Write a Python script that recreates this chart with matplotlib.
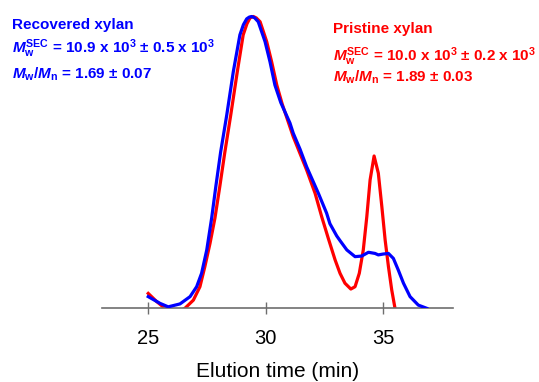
import matplotlib
matplotlib.use('Agg')
import matplotlib.pyplot as plt

# SEC elution profiles (normalised RI signal)
recovered_time = [25.0, 25.50, 25.85, 26.35, 26.78, 27.06, 27.27, 27.49, 27.70, 27.88,
                  28.08, 28.34, 28.62, 28.90, 29.05, 29.19, 29.30, 29.40, 29.52, 29.68,
                  29.97, 30.18, 30.39, 30.64, 31.03, 31.17, 31.46, 31.74, 32.24, 32.59,
                  32.73, 33.02, 33.16, 33.45, 33.80, 34.08, 34.37, 34.65, 34.79, 35.00,
                  35.22, 35.43, 35.64, 35.86, 36.14, 36.49, 36.85]
recovered_signal = [0.040, 0.017, 0.005, 0.015, 0.040, 0.074, 0.120, 0.200, 0.310, 0.420,
                    0.535, 0.662, 0.811, 0.937, 0.972, 0.992, 0.998, 1.000, 0.996, 0.982,
                    0.914, 0.845, 0.765, 0.705, 0.635, 0.600, 0.545, 0.485, 0.394, 0.326,
                    0.290, 0.248, 0.232, 0.200, 0.177, 0.179, 0.192, 0.188, 0.183, 0.186,
                    0.188, 0.171, 0.131, 0.086, 0.040, 0.011, 0.000]

pristine_time = [25.0, 25.36, 25.71, 26.10, 26.56, 26.92, 27.20, 27.41, 27.63, 27.84,
                 28.05, 28.25, 28.51, 28.79, 29.04, 29.20, 29.33, 29.47, 29.60, 29.76,
                 30.04, 30.25, 30.47, 30.70, 31.17, 31.74, 32.10, 32.38, 32.66, 32.95,
                 33.16, 33.37, 33.62, 33.80, 33.98, 34.15, 34.30, 34.44, 34.61, 34.79,
                 34.94, 35.08, 35.22, 35.36, 35.50, 35.60]
pristine_signal = [0.051, 0.023, 0.000, -0.020, 0.000, 0.028, 0.074, 0.143, 0.223, 0.310,
                   0.420, 0.530, 0.662, 0.811, 0.937, 0.975, 0.995, 1.000, 0.995, 0.982,
                   0.914, 0.845, 0.765, 0.700, 0.588, 0.474, 0.394, 0.314, 0.240, 0.166,
                   0.120, 0.086, 0.066, 0.074, 0.120, 0.200, 0.314, 0.440, 0.522, 0.463,
                   0.348, 0.234, 0.143, 0.063, 0.000, -0.030]

xticks = [25, 30, 35]

plt.rcParams['font.family'] = ['Liberation Sans', 'DejaVu Sans']
plt.rcParams['mathtext.fontset'] = 'custom'
plt.rcParams['mathtext.it'] = 'Liberation Sans:italic:bold'
plt.rcParams['mathtext.rm'] = 'Liberation Sans:bold'
plt.rcParams['mathtext.bf'] = 'Liberation Sans:bold'

W, H = 539, 382
fig = plt.figure(figsize=(W / 100, H / 100), dpi=100)
ax = fig.add_axes([101.7 / W, (H - 308.3) / H, 351.6 / W, 1.05 * 291.8 / H])

ax.plot(pristine_time, pristine_signal, color='#ff0000', lw=2.3, zorder=2)
ax.plot(recovered_time, recovered_signal, color='#0000ff', lw=2.3, zorder=3)

ax.set_xlim(23.02, 37.98)
ax.set_ylim(0, 1.05)

for s in ['top', 'right', 'left']:
    ax.spines[s].set_visible(False)
ax.spines['bottom'].set_color('#6e6e6e')
ax.spines['bottom'].set_linewidth(1.2)
ax.set_yticks([])
ax.set_xticks(xticks)
ax.tick_params(axis='x', direction='inout', length=8, width=1, color='#6e6e6e',
               labelsize=14.5, pad=11)
ax.set_xlabel('Elution time (min)', fontsize=15, labelpad=10)


def ftext(x, y, s, color):
    fig.text(x / W, 1 - y / H, s, color=color, fontsize=11, fontweight='bold',
             va='baseline', ha='left')


blue = '#0000ff'
red = '#ff0000'
ftext(12, 29.5, 'Recovered xylan', blue)
ftext(12, 53.5, r'$M_\mathrm{w}^\mathrm{SEC}$ = 10.9 x 10$^3$ ± 0.5 x 10$^3$', blue)
ftext(12, 78.5, r'$M_\mathrm{w}$/$M_\mathrm{n}$ = 1.69 ± 0.07', blue)

ftext(333, 33.5, 'Pristine xylan', red)
ftext(333, 60.5, r'$M_\mathrm{w}^\mathrm{SEC}$ = 10.0 x 10$^3$ ± 0.2 x 10$^3$', red)
ftext(333, 82, r'$M_\mathrm{w}$/$M_\mathrm{n}$ = 1.89 ± 0.03', red)

fig.savefig('out.png', dpi=100)
